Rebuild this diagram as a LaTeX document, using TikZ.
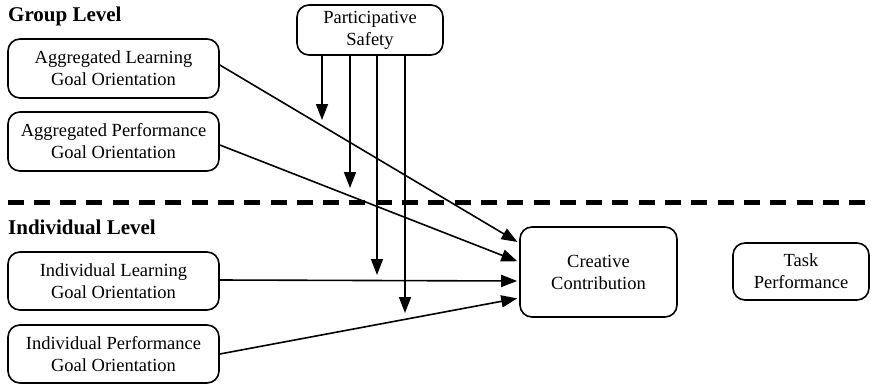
\documentclass[tikz,border=0pt]{standalone}
\usepackage{fontspec}
\setmainfont{Liberation Serif}
\usetikzlibrary{arrows.meta}
\begin{document}
\begin{tikzpicture}[x=1pt,y=-1pt,
  box/.style={draw, line width=1.6pt, rounded corners=12pt, align=center, inner sep=0pt,
    font=\fontsize{18.5}{22}\selectfont},
  lvl/.style={anchor=base west, inner sep=0pt, font=\fontsize{21}{24}\selectfont\bfseries},
  arr/.style={line width=1.6pt, -{Triangle[length=16pt,width=12pt]}},
  sep/.style={line width=5pt, dash pattern=on 16pt off 10.3pt}]
\useasboundingbox (0,0) rectangle (871,384);
\node[lvl] (gl) at (8,21) {Group Level};
\node[lvl] (il) at (8,234) {Individual Level};
\coordinate (s1) at (7.5,202.5);
\coordinate (s2) at (871,202.5);
\draw[sep] (s1) -- (s2);
\node[box, minimum width=211pt, minimum height=59pt] (al) at (113.5,68.5) {Aggregated Learning\\Goal Orientation};
\node[box, minimum width=211pt, minimum height=59pt] (ap) at (113.5,141.5) {Aggregated Performance\\Goal Orientation};
\node[box, minimum width=146pt, minimum height=50pt] (ps) at (370,30) {Participative\\Safety};
\node[box, minimum width=211pt, minimum height=58pt] (ilg) at (113.5,281) {Individual Learning\\Goal Orientation};
\node[box, minimum width=211pt, minimum height=58pt] (ipg) at (113.5,354) {Individual Performance\\Goal Orientation};
\node[box, minimum width=157pt, minimum height=90pt] (cc) at (598.5,272) {Creative\\Contribution};
\node[box, minimum width=136pt, minimum height=57pt] (tp) at (801,271.5) {Task\\Performance};
\coordinate (m1) at (322,120);
\coordinate (m2) at (350,188);
\coordinate (m3) at (377,275);
\coordinate (m4) at (405,313);
\foreach \m in {m1,m2,m3,m4} \draw[arr] (\m |- ps.south) -- (\m);
\draw[arr, shorten >=2pt] ([yshift=3.5pt]al.east) -- ([yshift=29pt]cc.west);
\draw[arr, shorten >=2pt] ([yshift=-3.5pt]ap.east) -- ([yshift=10pt]cc.west);
\draw[arr, shorten >=2pt] ([yshift=1pt]ilg.east) -- ([yshift=-9pt]cc.west);
\draw[arr, shorten >=2pt] (ipg.east) -- ([yshift=-26pt]cc.west);
\end{tikzpicture}
\end{document}
